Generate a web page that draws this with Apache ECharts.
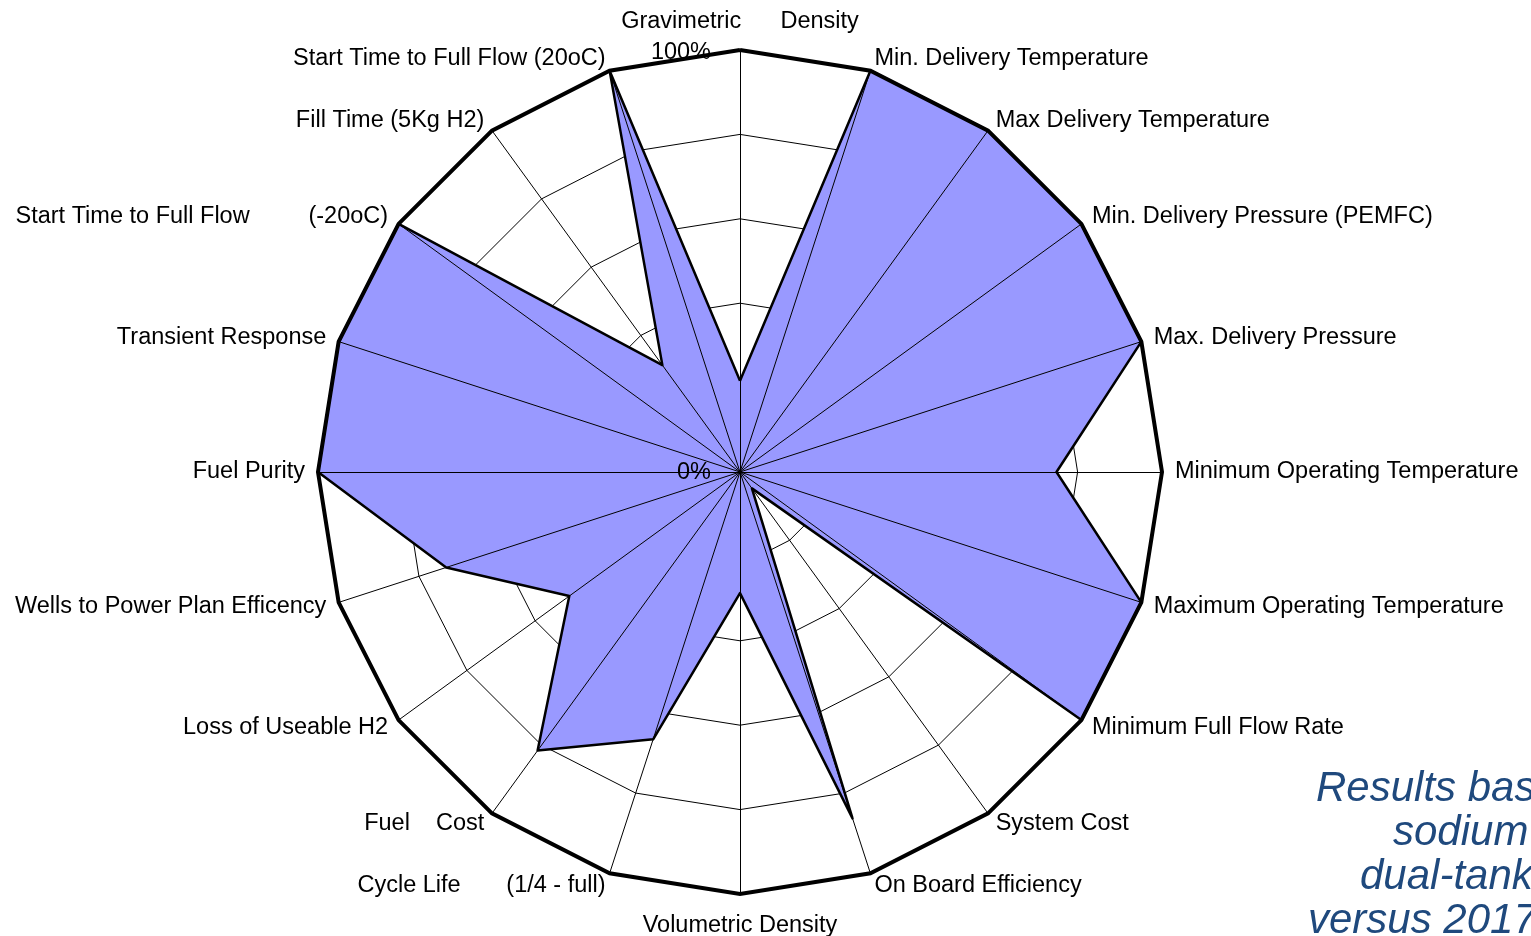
<!DOCTYPE html>
<html>
<head>
<meta charset="utf-8">
<script src="https://cdn.jsdelivr.net/npm/echarts@6/dist/echarts.min.js"></script>
<style>
html,body{margin:0;padding:0;background:#fff;}
#chart{width:1531px;height:936px;}
</style>
</head>
<body>
<div id="chart"></div>
<script>
// Indicator names (clockwise from top)
const indicatorNames = [
  'Gravimetric      Density',
  'Min. Delivery Temperature',
  'Max Delivery Temperature',
  'Min. Delivery Pressure (PEMFC)',
  'Max. Delivery Pressure',
  'Minimum Operating Temperature',
  'Maximum Operating Temperature',
  'Minimum Full Flow Rate',
  'System Cost',
  'On Board Efficiency',
  'Volumetric Density',
  'Cycle Life       (1/4 - full)',
  'Fuel    Cost',
  'Loss of Useable H2',
  'Wells to Power Plan Efficency',
  'Fuel Purity',
  'Transient Response',
  'Start Time to Full Flow         (-20oC)',
  'Fill Time (5Kg H2)',
  'Start Time to Full Flow (20oC)'
];
// Percent of target met (same order as indicatorNames)
const seriesValues = [21.6, 100, 100, 100, 100, 75, 100, 100, 4.8, 86.3, 28.7, 66.6, 81.6, 50, 73.2, 100, 100, 100, 31.3, 100];
const axisMin = 0;
const axisMax = 100;
const axisLabels = ['100%', '0%'];
const noteLines = ['Results based on', 'sodium alanate', 'dual-tank system', 'versus 2017 targets'];

const chart = echarts.init(document.getElementById('chart'));
const FONT = 'Liberation Sans, Arial, sans-serif';
const FS = 23.5;
const C = [740, 472];
const R = 422;

// ECharts lays radar indicators counter-clockwise; reorder to get clockwise layout
const order = [0].concat(indicatorNames.map((_, i) => i).slice(1).reverse());
const ind = order.map(i => ({ name: indicatorNames[i], min: axisMin, max: axisMax }));
const vals = order.map(i => seriesValues[i]);

const noteX = [1316, 1393, 1360, 1308];
const noteY = [789, 833, 877, 921];

chart.setOption({
  animation: false,
  backgroundColor: '#ffffff',
  radar: [
    {
      center: C, radius: R, startAngle: 90, shape: 'polygon', splitNumber: 5, z: 0,
      indicator: ind,
      nameGap: 13,
      axisName: {
        color: '#000', fontFamily: FONT, fontSize: FS,
        formatter: function (name) {
          if (name === indicatorNames[0]) return '{top|' + name + '}';
          if (name === indicatorNames[10]) return '{bot|' + name + '}';
          return name;
        },
        rich: {
          top: { color: '#000', fontFamily: FONT, fontSize: FS, padding: [0, 0, 3, 0] },
          bot: { color: '#000', fontFamily: FONT, fontSize: FS, padding: [7, 0, 0, 0] }
        }
      },
      axisLine: { show: false },
      splitLine: { show: true, lineStyle: { color: '#000', width: 1 } },
      splitArea: { show: false },
      axisTick: { show: false },
      axisLabel: { show: false }
    },
    {
      center: C, radius: R, startAngle: 90, shape: 'polygon', splitNumber: 5, z: 5,
      indicator: ind,
      axisName: { show: false },
      axisLine: { show: true, lineStyle: { color: '#000', width: 1 } },
      splitLine: { show: false },
      splitArea: { show: false },
      axisTick: { show: false },
      axisLabel: { show: false }
    },
    {
      center: C, radius: R, startAngle: 90, shape: 'polygon', splitNumber: 1, z: 6,
      indicator: ind,
      axisName: { show: false },
      axisLine: { show: false },
      splitLine: { show: true, lineStyle: { color: '#000', width: 4 } },
      splitArea: { show: false },
      axisTick: { show: false },
      axisLabel: { show: false }
    }
  ],
  series: [
    {
      type: 'radar',
      radarIndex: 0,
      z: 2,
      symbol: 'none',
      lineStyle: { color: '#000', width: 0, opacity: 0 },
      areaStyle: { color: '#9999FF', opacity: 1 },
      data: [{ value: vals }]
    },
    {
      type: 'radar',
      radarIndex: 0,
      z: 7,
      symbol: 'none',
      lineStyle: { color: '#000', width: 2.5 },
      data: [{ value: vals }]
    }
  ],
  graphic: [
    { type: 'text', x: 711, y: 53, z: 10, style: { text: axisLabels[0], font: FS + 'px ' + FONT, fill: '#000', align: 'right', verticalAlign: 'middle' } },
    { type: 'text', x: 711, y: 473, z: 10, style: { text: axisLabels[1], font: FS + 'px ' + FONT, fill: '#000', align: 'right', verticalAlign: 'middle' } }
  ].concat(noteLines.map((t, i) => ({
    type: 'text', x: noteX[i], y: noteY[i], z: 10,
    style: { text: t, font: 'italic 42px ' + FONT, fill: '#1F497D', align: 'left', verticalAlign: 'middle' }
  })))
});
</script>
</body>
</html>
